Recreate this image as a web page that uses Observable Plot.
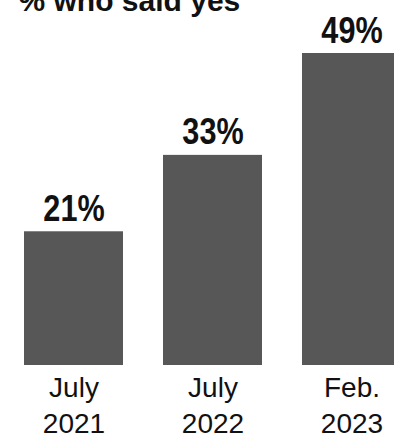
<!DOCTYPE html>
<html>
<head>
<meta charset="utf-8">
<script src="https://cdn.jsdelivr.net/npm/d3@7"></script>
<script src="https://cdn.jsdelivr.net/npm/@observablehq/plot@0.6"></script>
<style>
  html, body { margin: 0; padding: 0; background: #fff; overflow: hidden; }
  #chart svg { display: block; }
</style>
</head>
<body>
<div id="chart"></div>
<script>
const titleText = "% who said yes";
const categories = ["July 2021", "July 2022", "Feb. 2023"];
const tickLine1 = ["July", "July", "Feb."];
const tickLine2 = ["2021", "2022", "2023"];
const values = [21, 33, 49];

const data = categories.map((c, i) => ({cat: c, l1: tickLine1[i], l2: tickLine2[i], value: values[i]}));

const chart = Plot.plot({
  width: 394,
  height: 437,
  marginTop: 0,
  marginBottom: 0,
  marginLeft: 0,
  marginRight: 0,
  style: {background: "#fff", overflow: "visible"},
  x: {domain: categories, range: [23, 403], paddingInner: 0.2857, paddingOuter: 0, axis: null},
  y: {domain: [0, 49], range: [365, 53], axis: null},
  marks: [
    Plot.barY(data, {x: "cat", y: "value", fill: "#575757"}),
    Plot.text(data, {
      x: "cat", y: "value", text: d => d.value + "%",
      lineAnchor: "bottom", dy: -11, className: "vlabel",
      fontFamily: "'Liberation Sans', Arial, sans-serif",
      fontWeight: "bold", fontSize: 36, fill: "#111"
    }),
    Plot.text(data, {
      x: "cat", y: () => 0, text: "l1",
      lineAnchor: "bottom", dy: 31,
      fontFamily: "'Liberation Sans', Arial, sans-serif",
      fontSize: 28, fill: "#111"
    }),
    Plot.text(data, {
      x: "cat", y: () => 0, text: "l2",
      lineAnchor: "bottom", dy: 67,
      fontFamily: "'Liberation Sans', Arial, sans-serif",
      fontSize: 28, fill: "#111"
    }),
    Plot.text([titleText], {
      frameAnchor: "top-left", text: d => d, textAnchor: "start",
      lineAnchor: "top", dx: 18, dy: -11,
      fontFamily: "'Liberation Sans', Arial, sans-serif",
      fontWeight: "bold", fontSize: 30, fill: "#111"
    })
  ]
});
document.getElementById("chart").appendChild(chart);
// condense the bold value labels horizontally (narrow bold face)
d3.select(chart).selectAll("g.vlabel text").each(function() {
  const len = this.getComputedTextLength();
  this.setAttribute("textLength", (len * 0.85).toFixed(1));
  this.setAttribute("lengthAdjust", "spacingAndGlyphs");
});
</script>
</body>
</html>
